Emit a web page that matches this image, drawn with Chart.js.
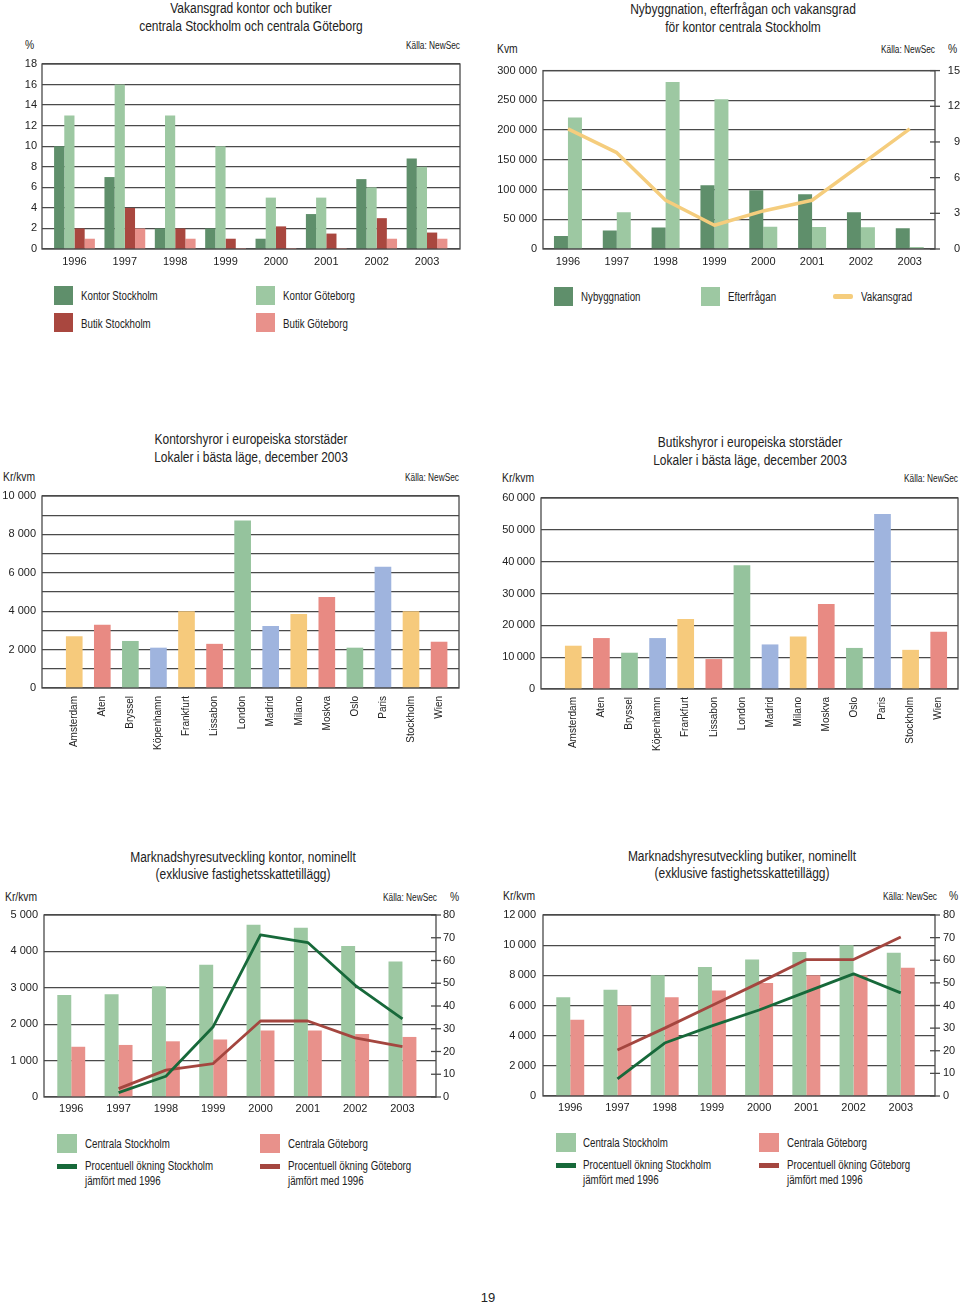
<!DOCTYPE html>
<html><head><meta charset="utf-8">
<script src="https://cdn.jsdelivr.net/npm/chart.js@4/dist/chart.umd.min.js"></script>
<style>
body{margin:0;background:#fff;width:960px;height:1307px;position:relative;overflow:hidden;font-family:'Liberation Sans',Arial,sans-serif;color:#222}
.t{position:absolute;white-space:nowrap;line-height:16px;height:16px}
canvas{position:absolute}
.sw{position:absolute}
</style></head><body>
<script>
// ---------- DATA ----------
const years = ['1996','1997','1998','1999','2000','2001','2002','2003'];
// Chart 1: Vakansgrad (%)
const vakKontorStockholm = [10, 7, 2, 2, 1, 3.4, 6.8, 8.8];
const vakKontorGoteborg  = [13, 16, 13, 10, 5, 5, 6, 8];
const vakButikStockholm  = [2, 4, 2, 1, 2.2, 1.5, 3, 1.6];
const vakButikGoteborg   = [1, 2, 1, 0.1, 0.1, 0.1, 1, 1];
// Chart 2: Nybyggnation / Efterfrågan (kvm), Vakansgrad (%)
const nybyggnation = [22000, 31000, 36000, 107000, 99000, 92000, 62000, 35000];
const efterfragan  = [221000, 62000, 281000, 252000, 37500, 37000, 36500, 3500];
const vakansgrad   = [10.1, 8.1, 4.1, 2.0, 3.2, 4.1, 7.1, 10.1];
// Chart 3 & 4: cities
const cities = ['Amsterdam','Aten','Bryssel','Köpenhamn','Frankfurt','Lissabon','London','Madrid','Milano','Moskva','Oslo','Paris','Stockholm','Wien'];
const kontorshyror = [2700, 3300, 2450, 2100, 4000, 2300, 8730, 3230, 3850, 4740, 2100, 6320, 4000, 2410];
const butikshyror  = [13600, 16000, 11400, 16000, 22000, 9400, 38900, 14000, 16500, 26700, 12900, 55000, 12300, 18000];
// Chart 5: kontor
const kontorStockholm = [2800, 2820, 3040, 3630, 4730, 4650, 4150, 3720];
const kontorGoteborg  = [1380, 1430, 1530, 1580, 1830, 1830, 1730, 1650];
const kontorOkningStockholm = [null, 1.9, 9.1, 30.9, 71.3, 67.9, 49.1, 34.3];
const kontorOkningGoteborg  = [null, 3.7, 11.8, 14.7, 33.4, 33.4, 26.0, 22.1];
// Chart 6: butiker
const butikStockholm = [6550, 7050, 8000, 8550, 9050, 9550, 10000, 9500];
const butikGoteborg  = [5050, 6000, 6550, 7000, 7500, 8000, 8000, 8500];
const butikOkningStockholm = [null, 7.6, 23.4, 31, 38, 46, 54, 45.6];
const butikOkningGoteborg  = [null, 20.3, 30, 40, 50, 60.3, 60.3, 70.3];

// ---------- STYLE ----------
const C = {
  dkGreen:'#5f8f6b', ltGreen:'#9dc8a2', dkRed:'#a9473f', pink:'#e8918b',
  yellow:'#f6ca7c', red:'#e88a83', green:'#95c39d', blue:'#9fb4de',
  lineYellow:'#f5cd7d', lineGreen:'#17693a', lineRed:'#a4463f', grid:'#4a4a4a'
};
const cityPalette = [C.yellow, C.red, C.green, C.blue];
const NUM_FONT = {family:"'Liberation Sans', Arial, sans-serif", size:11};
Chart.defaults.animation = false;
Chart.defaults.color = '#222';

function fmt(sep){ return v => String(v).replace(/\B(?=(\d{3})+(?!\d))/g, sep); }
function pts(arr){ return arr.map((v,i)=>({x:i, y:v})); }

// text helper: x,y = anchor, size in px, align, horizontal condense factor
function txt(x, y, s, size, align, k){
  k = k || 1;
  const d = document.createElement('div');
  d.className = 't';
  d.textContent = s;
  d.style.fontSize = size + 'px';
  d.style.top = (y - 8) + 'px';
  d.style.left = x + 'px';
  if (align === 'center') { d.style.transformOrigin = 'center'; d.style.transform = 'translateX(-50%) scaleX(' + k + ')'; }
  else if (align === 'right') { d.style.transformOrigin = 'right'; d.style.transform = 'translateX(-100%) scaleX(' + k + ')'; }
  else { d.style.transformOrigin = 'left'; d.style.transform = 'scaleX(' + k + ')'; }
  document.body.appendChild(d);
}
const TITLE = [14, 0.855], LEG = [12, 0.81], SRC = [10, 0.83], UNIT = [12, 0.86];
function title(x, y, s){ txt(x, y, s, TITLE[0], 'center', TITLE[1]); }
function leg(x, y, s){ txt(x, y, s, LEG[0], 'left', LEG[1]); }
function src(x, y){ txt(x, y, 'Källa: NewSec', SRC[0], 'right', SRC[1]); }
function unit(x, y, s){ txt(x, y, s, UNIT[0], 'left', UNIT[1]); }
function sw(x, y, w, h, color, r){
  const d = document.createElement('div');
  d.className = 'sw';
  Object.assign(d.style, {left:x+'px', top:y+'px', width:w+'px', height:h+'px', background:color, borderRadius:(r||0)+'px'});
  document.body.appendChild(d);
}

const framePlugin = {
  id:'frame',
  beforeDatasetsDraw(chart){
    const {ctx, chartArea:a} = chart;
    ctx.save();
    ctx.strokeStyle = C.grid; ctx.lineWidth = 1.3;
    ctx.strokeRect(a.left, a.top, a.right - a.left, a.bottom - a.top);
    const y2 = chart.scales.y2;
    if (y2) {
      y2.ticks.forEach(t => {
        const y = y2.getPixelForValue(t.value);
        ctx.beginPath(); ctx.moveTo(a.right - 5, y); ctx.lineTo(a.right + 5, y); ctx.stroke();
      });
    }
    ctx.restore();
  }
};

function makeChart(o){
  const c = document.createElement('canvas');
  c.width = o.w; c.height = o.h;
  c.style.left = o.x + 'px'; c.style.top = o.y + 'px';
  c.style.width = o.w + 'px'; c.style.height = o.h + 'px';
  document.body.appendChild(c);
  const labels = o.labels;
  const scales = {
    x: {type:'linear', min:o.xmin, max:o.xmax, offset:false, grid:{display:false, offset:false, drawTicks:false}, border:{display:false},
        afterBuildTicks: s => { s.ticks = labels.map((l,i)=>({value:i})); },
        afterFit: s => { s.height = o.xh; },
        ticks:{autoSkip:false, padding:o.xpad, font:o.xfont || NUM_FONT, color:'#222',
               minRotation:o.rot || 0, maxRotation:o.rot || 0,
               callback: v => labels[v]}},
    y: {min:0, max:o.ymax, position:'left',
        grid:{color:C.grid, lineWidth:1.3, drawTicks:false}, border:{display:false},
        afterFit: s => { s.width = o.yw; },
        ticks:{stepSize:o.ystep, padding:o.ypad, font:NUM_FONT, color:'#222', callback:o.ycb}}
  };
  if (o.y2) {
    scales.y2 = {min:0, max:o.y2.max, position:'right', grid:{display:false, drawTicks:false}, border:{display:false},
      afterFit: s => { s.width = o.y2.w; },
      ticks:{stepSize:o.y2.step, padding:o.y2.pad, crossAlign:o.y2.align || 'near', font:NUM_FONT, color:'#222'}};
  }
  return new Chart(c, {
    type:'bar',
    data:{datasets:o.datasets},
    options:{
      responsive:false, maintainAspectRatio:false,
      layout:{padding:{top:o.pt, right:o.pr, left:0, bottom:0}},
      plugins:{legend:{display:false}, tooltip:{enabled:false}},
      datasets:{bar:{categoryPercentage:o.cat, barPercentage:1, borderWidth:0}},
      scales
    },
    plugins:[framePlugin]
  });
}
function bar(data, color){ return {type:'bar', data:pts(data), backgroundColor:color, order:2, yAxisID:'y'}; }
function line(data, color, width){ return {type:'line', data:pts(data), borderColor:color, borderWidth:width, pointRadius:0, fill:false, tension:0, order:0, yAxisID:'y2', spanGaps:false, borderJoinStyle:'round'}; }

// ---------- CHART 1 ----------
title(251, 8, 'Vakansgrad kontor och butiker');
title(251, 26, 'centrala Stockholm och centrala Göteborg');
unit(25, 45, '%');
src(460, 46);
makeChart({x:0, y:50, w:470, h:230, pt:14, pr:10, yw:42, xh:31, xpad:6, ypad:5,
  labels:years, xmin:-0.645, xmax:7.655, ymax:18, ystep:2, cat:0.81,
  datasets:[bar(vakKontorStockholm, C.dkGreen), bar(vakKontorGoteborg, C.ltGreen), bar(vakButikStockholm, C.dkRed), bar(vakButikGoteborg, C.pink)]});
sw(54, 286, 19, 19, C.dkGreen); leg(81, 296, 'Kontor Stockholm');
sw(256, 286, 19, 19, C.ltGreen); leg(283, 296, 'Kontor Göteborg');
sw(54, 313, 19, 19, C.dkRed); leg(81, 324, 'Butik Stockholm');
sw(256, 313, 19, 19, C.pink); leg(283, 324, 'Butik Göteborg');

// ---------- CHART 2 ----------
title(743, 9, 'Nybyggnation, efterfrågan och vakansgrad');
title(743, 27, 'för kontor centrala Stockholm');
unit(497, 49, 'Kvm');
src(935, 50);
unit(948, 49, '%');
makeChart({x:480, y:54, w:480, h:226, pt:14, pr:0, yw:63, xh:31, xpad:6.5, ypad:6,
  labels:years, xmin:-0.511, xmax:7.517, ymax:300000, ystep:50000, ycb:fmt(' '), cat:0.573,
  y2:{max:15, step:3, w:25, pad:10, align:'far'},
  datasets:[line(vakansgrad, C.lineYellow, 3.5), bar(nybyggnation, C.dkGreen), bar(efterfragan, C.ltGreen)]});
sw(554, 287, 19, 19, C.dkGreen); leg(581, 297, 'Nybyggnation');
sw(701, 287, 19, 19, C.ltGreen); leg(728, 297, 'Efterfrågan');
sw(833, 294, 20, 5, C.lineYellow, 2); leg(861, 297, 'Vakansgrad');

// ---------- CHART 3 ----------
title(251, 439, 'Kontorshyror i europeiska storstäder');
title(251, 457, 'Lokaler i bästa läge, december 2003');
unit(3, 477, 'Kr/kvm');
src(459, 478);
makeChart({x:0, y:480, w:470, h:290, pt:16, pr:11, yw:42, xh:82, xpad:8, ypad:6, rot:90,
  xfont:{family:"'Liberation Sans', Arial, sans-serif", size:10},
  labels:cities, xmin:-1.149, xmax:13.71, ymax:10000, ystep:1000,
  ycb: v => v % 2000 === 0 ? fmt(' ')(v) : '', cat:0.594,
  datasets:[bar(kontorshyror, cities.map((c,i)=>cityPalette[i % 4]))]});

// ---------- CHART 4 ----------
title(750, 442, 'Butikshyror i europeiska storstäder');
title(750, 460, 'Lokaler i bästa läge, december 2003');
unit(502, 478, 'Kr/kvm');
src(958, 479);
makeChart({x:480, y:480, w:480, h:290, pt:18, pr:2, yw:61, xh:81, xpad:8, ypad:6, rot:90,
  xfont:{family:"'Liberation Sans', Arial, sans-serif", size:10},
  labels:cities, xmin:-1.148, xmax:13.686, ymax:60000, ystep:10000,
  ycb: fmt('\u2009'), cat:0.594,
  datasets:[bar(butikshyror, cities.map((c,i)=>cityPalette[i % 4]))]});

// ---------- CHART 5 ----------
title(243, 857, 'Marknadshyresutveckling kontor, nominellt');
title(243, 874, '(exklusive fastighetsskattetillägg)');
unit(5, 897, 'Kr/kvm');
src(437, 898);
unit(450, 897, '%');
makeChart({x:0, y:900, w:470, h:228, pt:15, pr:0, yw:44, xh:31, xpad:5, ypad:6,
  labels:years, xmin:-0.576, xmax:7.709, ymax:5000, ystep:1000, ycb:fmt(' '), cat:0.59,
  y2:{max:80, step:10, w:34, pad:7, align:'near'},
  datasets:[line(kontorOkningStockholm, C.lineGreen, 2.8), line(kontorOkningGoteborg, C.lineRed, 2.8),
            bar(kontorStockholm, C.ltGreen), bar(kontorGoteborg, C.pink)]});
sw(57, 1134, 20, 19, C.ltGreen); leg(85, 1144, 'Centrala Stockholm');
sw(260, 1134, 20, 19, C.pink); leg(288, 1144, 'Centrala Göteborg');
sw(57, 1164, 20, 5, C.lineGreen); leg(85, 1166, 'Procentuell ökning Stockholm'); leg(85, 1181, 'jämfört med 1996');
sw(260, 1164, 20, 5, C.lineRed); leg(288, 1166, 'Procentuell ökning Göteborg'); leg(288, 1181, 'jämfört med 1996');

// ---------- CHART 6 ----------
title(742, 856, 'Marknadshyresutveckling butiker, nominellt');
title(742, 873, '(exklusive fastighetsskattetillägg)');
unit(503, 896, 'Kr/kvm');
src(937, 897);
unit(949, 896, '%');
makeChart({x:480, y:900, w:480, h:228, pt:15, pr:0, yw:63, xh:32, xpad:5.5, ypad:7,
  labels:years, xmin:-0.577, xmax:7.725, ymax:12000, ystep:2000, ycb:fmt('\u2009'), cat:0.592,
  y2:{max:80, step:10, w:25, pad:8, align:'near'},
  datasets:[line(butikOkningStockholm, C.lineGreen, 2.8), line(butikOkningGoteborg, C.lineRed, 2.8),
            bar(butikStockholm, C.ltGreen), bar(butikGoteborg, C.pink)]});
sw(556, 1133, 20, 19, C.ltGreen); leg(583, 1143, 'Centrala Stockholm');
sw(759, 1133, 20, 19, C.pink); leg(787, 1143, 'Centrala Göteborg');
sw(556, 1163, 20, 5, C.lineGreen); leg(583, 1165, 'Procentuell ökning Stockholm'); leg(583, 1180, 'jämfört med 1996');
sw(759, 1163, 20, 5, C.lineRed); leg(787, 1165, 'Procentuell ökning Göteborg'); leg(787, 1180, 'jämfört med 1996');

// page number
txt(488, 1298, '19', 13, 'center', 1);
</script>
</body></html>
